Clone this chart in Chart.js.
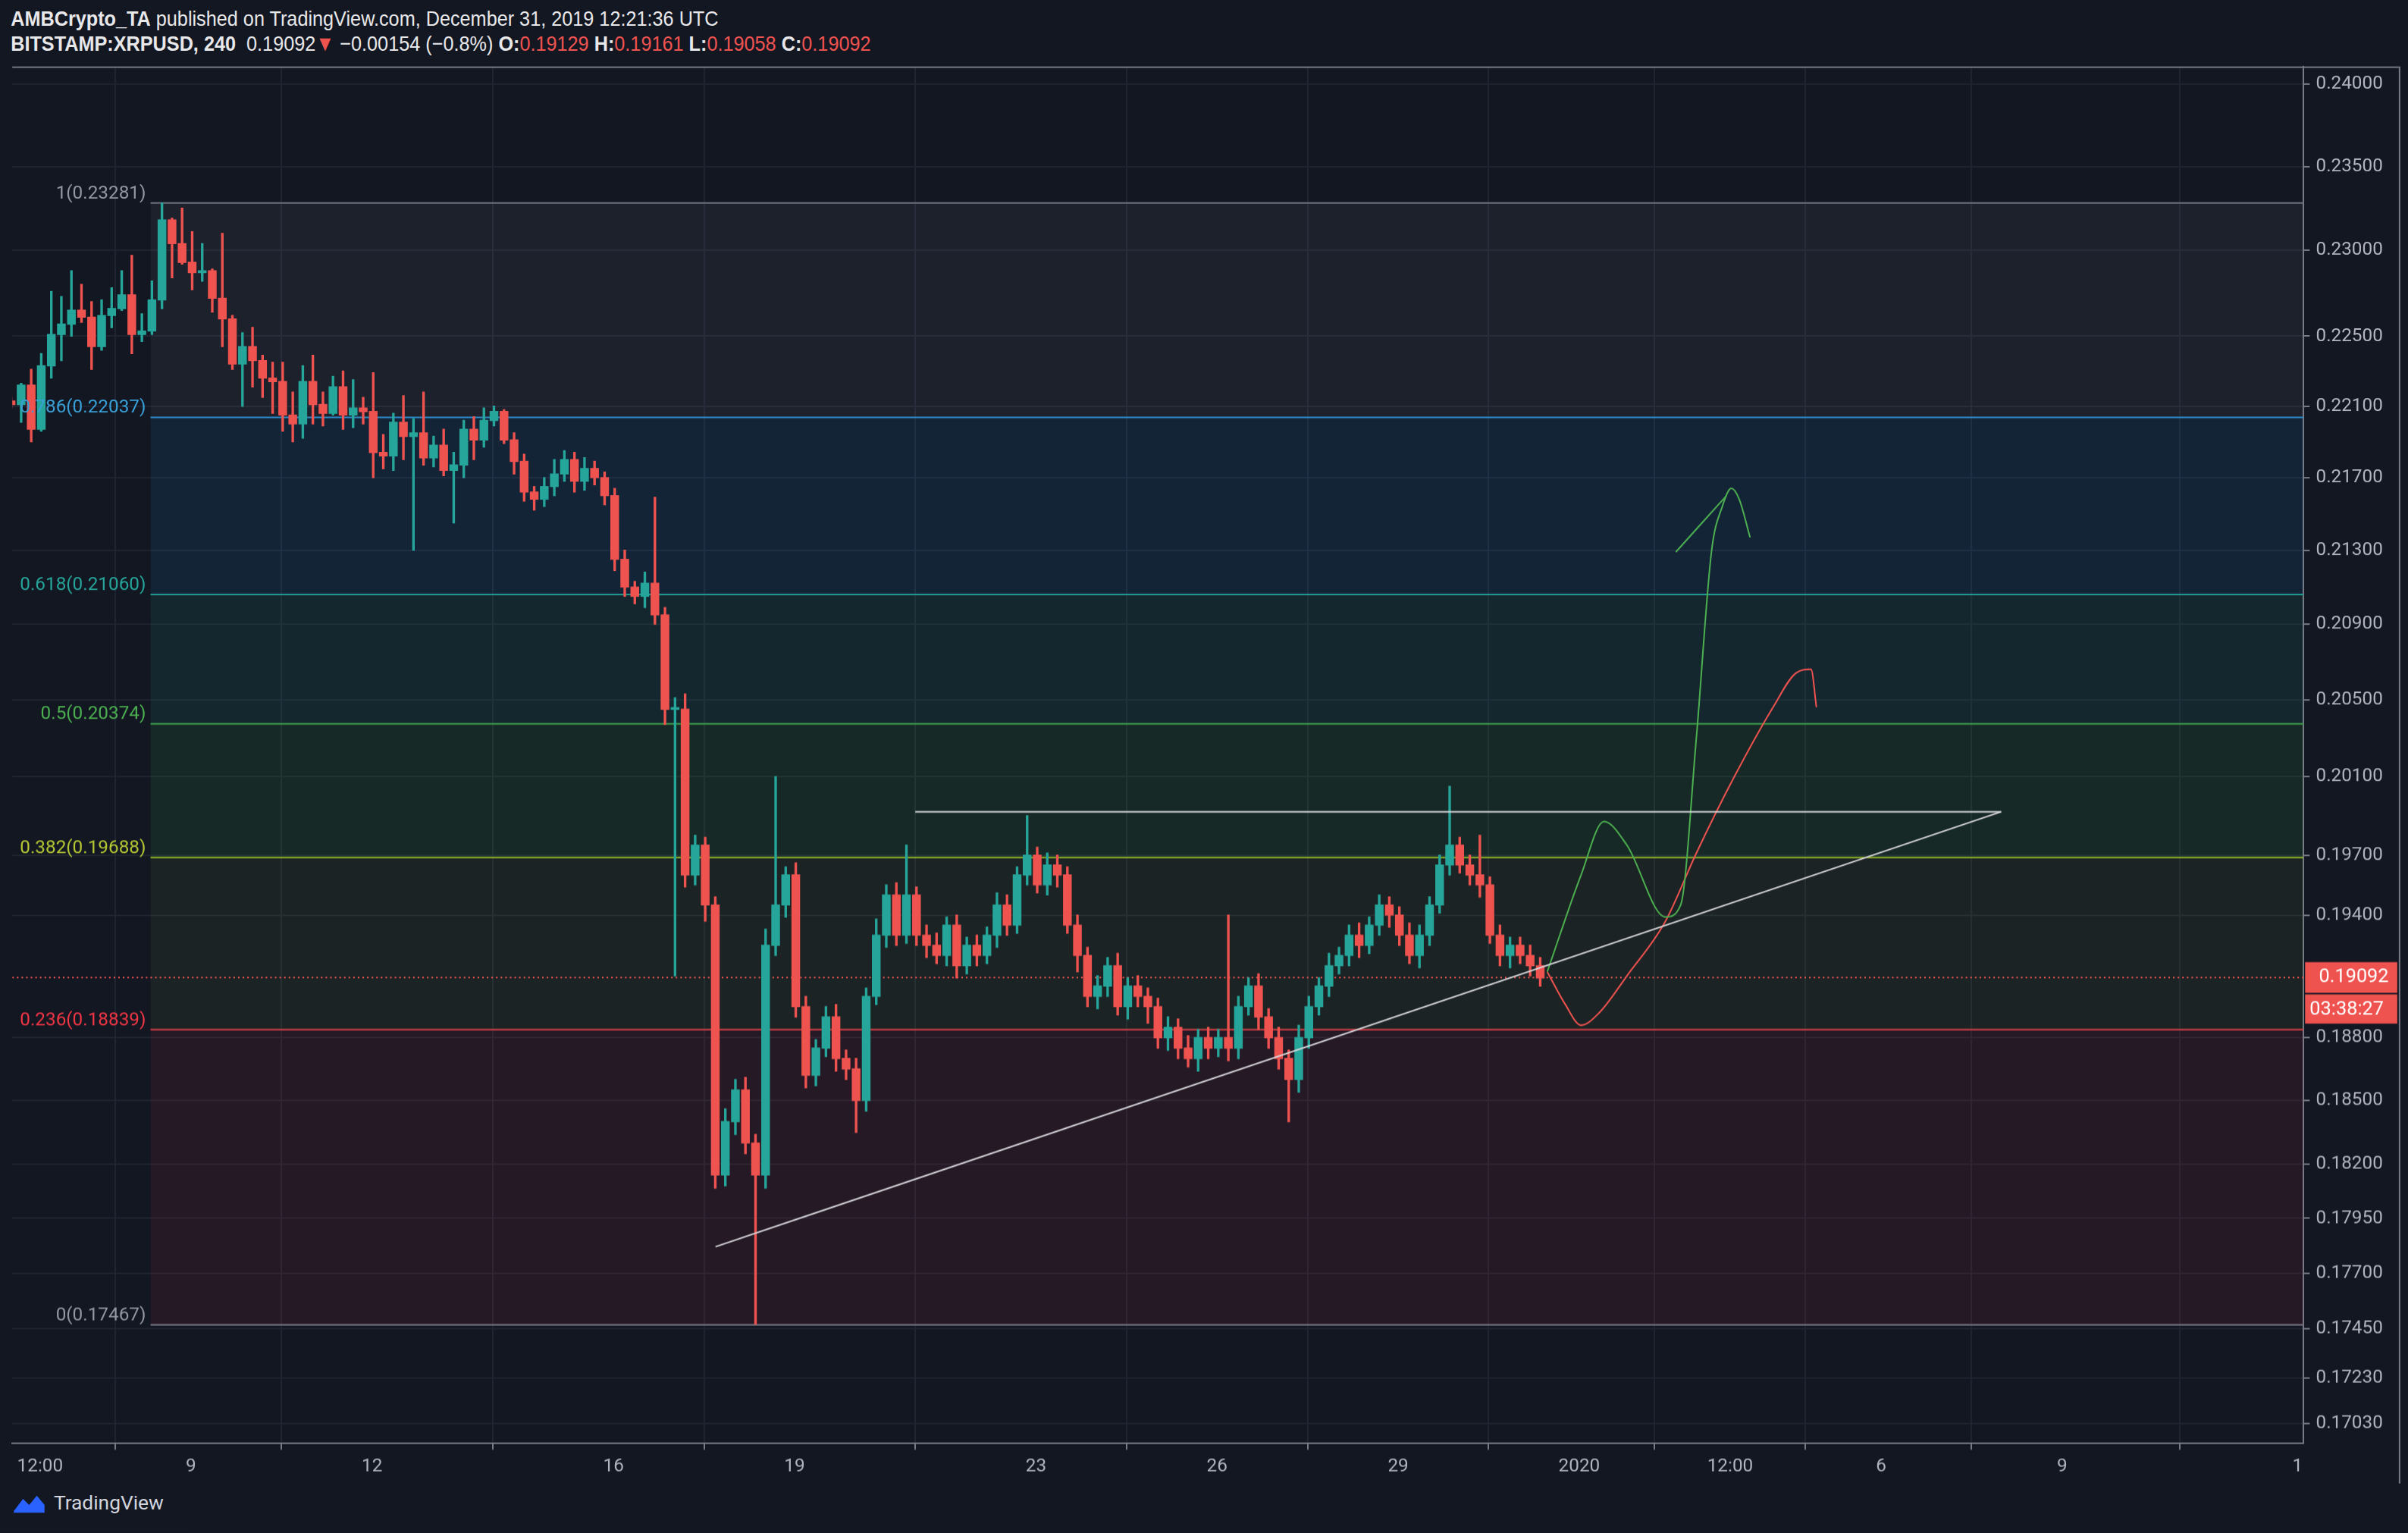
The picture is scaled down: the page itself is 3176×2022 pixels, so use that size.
<!DOCTYPE html>
<html><head><meta charset="utf-8">
<script src="https://cdn.jsdelivr.net/npm/chart.js@4/dist/chart.umd.min.js"></script>
<style>
html,body{margin:0;padding:0;background:#131722;overflow:hidden}
#wrap{position:absolute;left:0;top:0;width:1568px;height:998px;transform:scale(2.02551);transform-origin:0 0;background:#131722;font-family:'Liberation Sans Narrow','Liberation Sans',sans-serif}
#h1,#h2{position:absolute;left:7px;color:#e8e8ea;font-size:14px;white-space:nowrap;transform:scaleX(0.89);transform-origin:0 0}
#h1{top:4px}#h2{top:20px}
b{font-weight:bold}
.r{color:#ef5350}
#cv{position:absolute;left:0;top:32px;width:1568px;height:934px}
#foot{position:absolute;left:8px;top:971px;color:#d1d4dc;font-family:Roboto,sans-serif;font-size:13px;display:flex;align-items:center;gap:5px}
</style></head><body>
<div id="wrap">
<div id="h1"><b>AMBCrypto_TA</b> published on TradingView.com, December 31, 2019 12:21:36 UTC</div>
<div id="h2"><b>BITSTAMP:XRPUSD, 240</b>&nbsp; 0.19092<span class="r">▼</span> −0.00154 (−0.8%) <b>O:</b><span class="r">0.19129</span> <b>H:</b><span class="r">0.19161</span> <b>L:</b><span class="r">0.19058</span> <b>C:</b><span class="r">0.19092</span></div>
<div id="cv"><canvas id="c"></canvas></div>
<div id="foot"><svg width="22" height="14" viewBox="0 0 22 14"><path d="M1 12 L7 4 L11 8 L16 2 L21 8 L21 13 L1 13Z" fill="#2962ff"/></svg>TradingView</div>
</div>
<script>
// price data (units of 0.0001), 4h candles; candle i sits at day i/6 from Dec 6
const firstOpen = 2213;
const closes = [
 2211,2222,2197,2233,2251,2257,2265,2261,2244,2262,2266,2274,2251,2253,2271,2318,2304,2293,2287,2288,
 2272,2260,2234,2244,2236,2226,2224,2205,2200,2224,2211,2206,2221,2205,2209,2207,2184,2182,2201,2193,
 2195,2181,2188,2174,2177,2197,2191,2202,2207,2191,2179,
 2162,2158,2165,
 2172,2180,2168,2175,2170,2160,
 2125,2110,2105,2112,2095,2045,
 2045,1960,1975,1945,1815,1840,
 1855,1830,1815,1925,1945,1960,
 1895,1862,1875,1890,1870,1865,
 1850,1900,1930,1950,1930,1950,
 1930,1925,1920,1935,1915,1925,
 1920,1930,1945,1935,1960,1970,
 1955,1965,1960,1935,1920,1900,
 1905,1915,1895,1905,1900,1895,
 1880,1885,1875,1870,1880,1875,
 1880,1875,1895,1905,1890,1880,
 1870,1860,1880,1895,1905,1915,
 1920,1930,1925,1935,1945,1940,
 1930,1920,1930,1945,1965,1975,
 1965,1960,1955,1930,1920,1925,
 1920,1915,1909
];
const upWick = [
 2,1,9,7,25,16,23,15,9,9,12,14,23,10,11,10,1,21,18,16,
 1,38,2,8,11,3,9,11,13,9,15,7,6,9,16,6,22,10,5,15,
 8,23,5,9,7,5,7,7,3,1,4,
 4,3,5,
 8,5,4,6,4,3,
 4,5,3,6,47,4,
 6,8,5,4,4,6,
 5,6,4,8,65,4,
 6,5,4,5,6,4,
 5,4,8,5,6,25,
 4,5,6,4,5,4,
 5,4,6,5,4,20,
 4,6,5,4,5,4,
 5,4,6,4,5,4,
 4,5,4,6,4,5,
 4,60,5,4,6,4,
 5,4,6,5,4,6,
 4,5,6,4,5,4,
 4,6,5,4,5,30,
 4,5,20,4,5,4,
 4,5,4
];
const dnWick = [
 2,10,7,1,7,15,7,3,13,2,7,1,11,4,2,5,20,1,10,5,
 8,16,3,24,15,11,18,9,10,8,11,7,1,8,7,7,14,7,8,13,
 63,4,5,3,29,7,11,4,3,2,7,
 5,6,4,
 5,4,6,5,4,5,
 6,5,4,6,5,8,
 135,6,5,8,6,5,
 6,5,68,6,5,6,
 5,6,5,4,6,5,
 15,5,4,6,5,4,
 5,6,4,5,6,4,
 5,4,6,5,4,5,
 4,5,6,4,8,5,
 6,5,4,6,5,8,
 5,6,5,4,6,5,
 4,6,5,4,6,5,
 5,20,6,5,4,5,
 4,5,6,4,5,6,
 5,4,6,5,4,5,
 4,5,6,4,5,6,
 4,5,4
];
const tickVals = [0.24000,0.23500,0.23000,0.22500,0.22100,0.21700,0.21300,0.20900,0.20500,0.20100,0.19700,0.19400,0.18800,0.18500,0.18200,0.17950,0.17700,0.17450,0.17230,0.17030];
const xTickPos = [0.5,3,6,10,13,17,20,23,26,28.5,31,34,37.9];
const xTickLbl = ['12:00','9','12','16','19','23','26','29','2020','12:00','6','9','1'];
const fibRatio = ['1','0.786','0.618','0.5','0.382','0.236','0'];
const fibLevel = [0.23281,0.22037,0.21060,0.20374,0.19688,0.18839,0.17467];
const fibLine = ['#6f7380','#2e8fd0','#22a08e','#3fa64a','#9bbb2a','#d23a45','#6f7380'];
const fibFill = ['rgba(120,123,134,0.10)','rgba(33,120,200,0.13)','rgba(30,160,140,0.12)','rgba(60,170,70,0.12)','rgba(110,150,60,0.10)','rgba(200,50,70,0.10)'];
const fibText = ['#9598a1','#3aa0d8','#26a69a','#4caf50','#b5c834','#f23645','#9598a1'];
const trendLine = [{x:11.69,y:0.1782},{x:32.99,y:0.1992}];
const resistLine = [{x:15.0,y:0.1992},{x:32.99,y:0.1992}];
const greenPath = [{x:25.47,y:0.1912},{x:26.03,y:0.1960},{x:26.41,y:0.1987},{x:26.79,y:0.1975},{x:27.43,y:0.1939},{x:27.68,y:0.1945},{x:27.94,y:0.2030},{x:28.19,y:0.2129},{x:28.37,y:0.2154},{x:28.52,y:0.2164},{x:28.65,y:0.2158},{x:28.83,y:0.2137}];
const greenArrow = [{x:27.60,y:0.2129},{x:28.44,y:0.2160}];
const redPath = [{x:25.47,y:0.1912},{x:25.77,y:0.1896},{x:26.03,y:0.1886},{x:26.33,y:0.1892},{x:26.79,y:0.1910},{x:27.43,y:0.1937},{x:27.94,y:0.1971},{x:28.57,y:0.2010},{x:29.21,y:0.2046},{x:29.59,y:0.2064},{x:29.84,y:0.2066},{x:29.93,y:0.2046}];
const lastPrice = 0.19092;
const fibStart = 2.33, xMin = 0.04, xMax = 38;

const bodies=[], wicks=[], cols=[];
closes.forEach((c,i)=>{
  const o = i===0?firstOpen:closes[i-1];
  const x = 0.02 + i/6;
  const hi = Math.max(o,c)+upWick[i], lo = Math.min(o,c)-dnWick[i];
  let a=o/1e4,b=c/1e4; if(Math.abs(a-b)<0.00008){b=a+(c>=o?0.00008:-0.00008);}
  bodies.push({x,y:[a,b]}); wicks.push({x,y:[lo/1e4,hi/1e4]});
  cols.push(c>=o?'#26a69a':'#ef5350');
});
const datasets=[];
fibLevel.forEach((v,i)=>{
  datasets.push({type:'line',data:[{x:fibStart,y:v},{x:xMax,y:v}],borderColor:fibLine[i],borderWidth:1,pointRadius:0,
    fill:i<fibLevel.length-1?'+1':false,backgroundColor:fibFill[i]||'transparent',order:10});
});
datasets.push({type:'line',data:[{x:xMin,y:lastPrice},{x:xMax,y:lastPrice}],borderColor:'#ef5350',borderWidth:1,borderDash:[1,2],pointRadius:0,order:9});
datasets.push({type:'bar',data:wicks,backgroundColor:cols,barThickness:1,grouped:false,order:5});
datasets.push({type:'bar',data:bodies,backgroundColor:cols,barThickness:5,grouped:false,order:4});
[[trendLine,'#d8d8dc'],[resistLine,'#d8d8dc'],[greenPath,'#4caf50'],[greenArrow,'#4caf50'],[redPath,'#ef5350']].forEach(([d,c])=>{
  datasets.push({type:'line',data:d,borderColor:c,borderWidth:1,pointRadius:0,tension:(d===greenPath||d===redPath)?0.4:0,cubicInterpolationMode:'monotone',order:1});
});

const overlay={id:'ov',afterDatasetsDraw(ch){
  const {ctx,scales:{x,y},chartArea:ca}=ch;
  ctx.save();
  ctx.font='12px Roboto';ctx.textAlign='right';ctx.textBaseline='middle';
  fibLevel.forEach((v,i)=>{ctx.fillStyle=fibText[i];ctx.fillText(fibRatio[i]+'('+v.toFixed(5)+')',x.getPixelForValue(fibStart)-3,y.getPixelForValue(v)-6);});
  const py=y.getPixelForValue(lastPrice);
  ctx.fillStyle='#ef5350';ctx.fillRect(ca.right+1,py-10,60,20);ctx.fillRect(ca.right+1,py+11,60,19);
  ctx.fillStyle='#fff';ctx.textAlign='left';ctx.font='12.5px Roboto';
  ctx.fillText(lastPrice.toFixed(5),ca.right+10,py);ctx.fillText('03:38:27',ca.right+4,py+21);
  ctx.strokeStyle='#787b86';ctx.lineWidth=1;ctx.beginPath();ctx.moveTo(1562.5,ca.top);ctx.lineTo(1562.5,ca.bottom+26);ctx.stroke();
  ctx.beginPath();ctx.moveTo(ca.left,ca.top+0.5);ctx.lineTo(1562,ca.top+0.5);ctx.stroke();
  ctx.restore();
}};

new Chart(document.getElementById('c'),{
  data:{datasets},
  plugins:[overlay],
  options:{responsive:true,maintainAspectRatio:false,animation:false,devicePixelRatio:2.02551,
    layout:{padding:{left:8,top:1,right:6,bottom:0}},
    plugins:{legend:{display:false},tooltip:{enabled:false}},
    scales:{
      x:{type:'linear',min:xMin,max:xMax,offset:false,
        afterBuildTicks:s=>{s.ticks=xTickPos.map(v=>({value:v}));},
        ticks:{color:'#b2b5be',font:{family:'Roboto',size:12},maxRotation:0,autoSkip:false,padding:4,
          callback:(v)=>{const k=xTickPos.indexOf(v);return k>=0?xTickLbl[k]:'';}},
        grid:{color:'#1f2431',drawTicks:true,tickLength:4,tickColor:'#787b86'},border:{color:'#787b86'}},
      y:{type:'logarithmic',position:'right',min:0.16944,max:0.2411,
        afterBuildTicks:s=>{s.ticks=tickVals.map(v=>({value:v}));},
        afterFit:s=>{s.width=62;},
        ticks:{color:'#b2b5be',font:{family:'Roboto',size:12},padding:4,callback:v=>Number(v).toFixed(5)},
        grid:{color:'#1f2431',tickLength:4,tickColor:'#787b86'},border:{color:'#787b86'}}
    }}
});
</script>
</body></html>
